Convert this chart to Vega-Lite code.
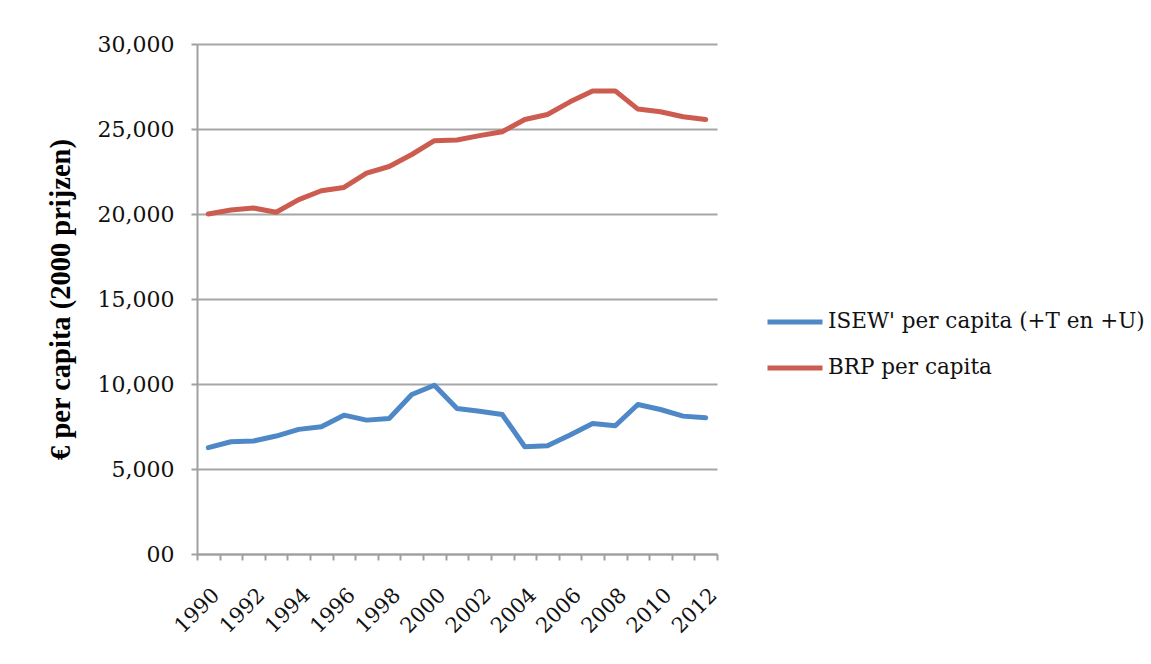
{
  "$schema": "https://vega.github.io/schema/vega-lite/v6.json",
  "autosize": "none",
  "width": 520,
  "height": 510,
  "padding": {"left": 197, "top": 44, "right": 434, "bottom": 110},
  "background": "white",
  "config": {
    "view": {"stroke": null},
    "font": "DejaVu Serif"
  },
  "data": {
    "values": [
      {"year": "1990", "series": "ISEW' per capita (+T en +U)", "value": 6253},
      {"year": "1991", "series": "ISEW' per capita (+T en +U)", "value": 6604},
      {"year": "1992", "series": "ISEW' per capita (+T en +U)", "value": 6645},
      {"year": "1993", "series": "ISEW' per capita (+T en +U)", "value": 6938},
      {"year": "1994", "series": "ISEW' per capita (+T en +U)", "value": 7330},
      {"year": "1995", "series": "ISEW' per capita (+T en +U)", "value": 7482},
      {"year": "1996", "series": "ISEW' per capita (+T en +U)", "value": 8167},
      {"year": "1997", "series": "ISEW' per capita (+T en +U)", "value": 7875},
      {"year": "1998", "series": "ISEW' per capita (+T en +U)", "value": 7974},
      {"year": "1999", "series": "ISEW' per capita (+T en +U)", "value": 9379},
      {"year": "2000", "series": "ISEW' per capita (+T en +U)", "value": 9924},
      {"year": "2001", "series": "ISEW' per capita (+T en +U)", "value": 8560},
      {"year": "2002", "series": "ISEW' per capita (+T en +U)", "value": 8402},
      {"year": "2003", "series": "ISEW' per capita (+T en +U)", "value": 8208},
      {"year": "2004", "series": "ISEW' per capita (+T en +U)", "value": 6311},
      {"year": "2005", "series": "ISEW' per capita (+T en +U)", "value": 6370},
      {"year": "2006", "series": "ISEW' per capita (+T en +U)", "value": 6996},
      {"year": "2007", "series": "ISEW' per capita (+T en +U)", "value": 7681},
      {"year": "2008", "series": "ISEW' per capita (+T en +U)", "value": 7541},
      {"year": "2009", "series": "ISEW' per capita (+T en +U)", "value": 8794},
      {"year": "2010", "series": "ISEW' per capita (+T en +U)", "value": 8501},
      {"year": "2011", "series": "ISEW' per capita (+T en +U)", "value": 8110},
      {"year": "2012", "series": "ISEW' per capita (+T en +U)", "value": 8009},
      {"year": "1990", "series": "BRP per capita", "value": 20000},
      {"year": "1991", "series": "BRP per capita", "value": 20234},
      {"year": "1992", "series": "BRP per capita", "value": 20351},
      {"year": "1993", "series": "BRP per capita", "value": 20100},
      {"year": "1994", "series": "BRP per capita", "value": 20843},
      {"year": "1995", "series": "BRP per capita", "value": 21370},
      {"year": "1996", "series": "BRP per capita", "value": 21563},
      {"year": "1997", "series": "BRP per capita", "value": 22400},
      {"year": "1998", "series": "BRP per capita", "value": 22793},
      {"year": "1999", "series": "BRP per capita", "value": 23500},
      {"year": "2000", "series": "BRP per capita", "value": 24315},
      {"year": "2001", "series": "BRP per capita", "value": 24356},
      {"year": "2002", "series": "BRP per capita", "value": 24608},
      {"year": "2003", "series": "BRP per capita", "value": 24842},
      {"year": "2004", "series": "BRP per capita", "value": 25562},
      {"year": "2005", "series": "BRP per capita", "value": 25855},
      {"year": "2006", "series": "BRP per capita", "value": 26598},
      {"year": "2007", "series": "BRP per capita", "value": 27242},
      {"year": "2008", "series": "BRP per capita", "value": 27242},
      {"year": "2009", "series": "BRP per capita", "value": 26171},
      {"year": "2010", "series": "BRP per capita", "value": 26013},
      {"year": "2011", "series": "BRP per capita", "value": 25720},
      {"year": "2012", "series": "BRP per capita", "value": 25562}
    ]
  },
  "mark": {"type": "line", "strokeWidth": 5, "strokeJoin": "round", "strokeCap": "round"},
  "encoding": {
    "x": {
      "field": "year",
      "type": "ordinal",
      "scale": {"type": "band", "paddingInner": 0, "paddingOuter": 0},
      "bandPosition": 0.5,
      "axis": {
        "title": null,
        "tickBand": "extent",
        "labelExpr": "parseInt(datum.value) % 2 == 0 ? datum.value : ''",
        "labelAngle": -45,
        "labelFont": "DejaVu Serif",
        "labelFontSize": 21,
        "labelColor": "#111111",
        "labelPadding": 24,
        "domainColor": "#a0a0a0",
        "domainWidth": 2,
        "tickColor": "#a0a0a0",
        "tickWidth": 2,
        "tickSize": 6,
        "grid": false
      }
    },
    "y": {
      "field": "value",
      "type": "quantitative",
      "scale": {"domain": [0, 30000], "nice": false},
      "axis": {
        "title": "€ per capita (2000 prijzen)",
        "titleFont": "Liberation Serif",
        "titleFontSize": 28.5,
        "titleFontWeight": "bold",
        "titleColor": "#000000",
        "titlePadding": 22,
        "values": [0, 5000, 10000, 15000, 20000, 25000, 30000],
        "labelExpr": "datum.value == 0 ? '00' : format(datum.value, ',')",
        "labelFont": "DejaVu Serif",
        "labelFontSize": 22,
        "labelColor": "#111111",
        "labelPadding": 17,
        "domainColor": "#a0a0a0",
        "domainWidth": 2,
        "tickColor": "#a0a0a0",
        "tickWidth": 2,
        "tickSize": 6,
        "grid": true,
        "gridColor": "#a6a6a6",
        "gridWidth": 2
      }
    },
    "color": {
      "field": "series",
      "type": "nominal",
      "scale": {
        "domain": ["ISEW' per capita (+T en +U)", "BRP per capita"],
        "range": ["#4f88c6", "#cc5c50"]
      },
      "legend": {
        "title": null,
        "orient": "none",
        "legendX": 568,
        "legendY": 248,
        "symbolType": "stroke",
        "symbolSize": 3025,
        "symbolStrokeWidth": 5,
        "labelFont": "DejaVu Serif",
        "labelFontSize": 21.5,
        "labelColor": "#111111",
        "labelOffset": 3,
        "labelLimit": 400,
        "rowPadding": 5
      }
    }
  }
}
